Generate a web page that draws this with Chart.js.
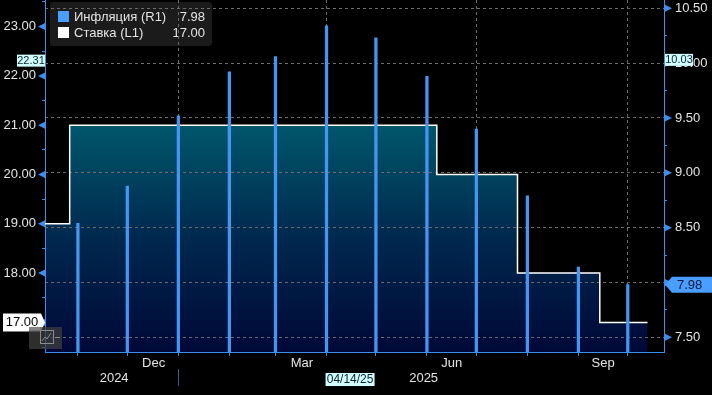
<!DOCTYPE html>
<html lang="ru">
<head>
    <meta charset="utf-8" />
    <title>Инфляция и ставка</title>
    <script src="https://cdn.jsdelivr.net/npm/chart.js@4.4.1/dist/chart.umd.min.js"></script>
    <style>
        html, body { margin: 0; padding: 0; background: #000; }
        #wrap { width: 712px; height: 395px; }
    </style>
</head>
<body>
    <div id="wrap"><canvas id="rateChart" width="712" height="395"></canvas></div>
    <script type="text/javascript">
        // inflation y/y, month-end points (right axis)
        const inflationDates = ['2024-10-31', '2024-11-30', '2024-12-31', '2025-01-31', '2025-02-28', '2025-03-31',
                                '2025-04-30', '2025-05-31', '2025-06-30', '2025-07-31', '2025-08-31', '2025-09-30'];
        const inflationValues = [8.54, 8.88, 9.52, 9.92, 10.06, 10.34, 10.23, 9.88, 9.40, 8.79, 8.14, 7.98];

        // key rate, date of each change (left axis)
        const rateDates = ['2024-10-11', '2024-10-26', '2025-06-06', '2025-07-25', '2025-09-13', '2025-10-12'];
        const rateValues = [19, 21, 20, 18, 17, 17];

        const axisStart = '2024-10-11';
        const axisEnd = '2025-10-22';
        const monthEnds = inflationDates;
        const quarterEnds = ['2024-12-31', '2025-03-31', '2025-06-30', '2025-09-30'];
        const monthLabels = ['Dec', 'Mar', 'Jun', 'Sep'];
        const monthLabelDates = ['2024-12-16', '2025-03-16', '2025-06-15', '2025-09-15'];
        const yearLabels = ['2024', '2025'];
        const yearLabelDates = ['2024-11-22', '2025-05-29'];
        const yearBreak = '2024-12-31';

        const leftTicks = [17, 18, 19, 20, 21, 22, 23];
        const rightTicks = [7.5, 8.0, 8.5, 9.0, 9.5, 10.0, 10.5];

        const crosshairDate = '04/14/25';
        const crosshairDay = '2025-04-14';
        const crosshairLeft = 22.31;
        const crosshairRight = 10.03;

        const axisBlue = '#3f8ded';
        const barBlue = '#4596f2';
        const gridGray = '#6c6c6c';
        const textColor = '#e4e4e4';
        const fontFamily = "'Liberation Sans', Arial, sans-serif";

        const DAY = 86400000;
        const day = s => Date.UTC(+s.slice(0, 4), +s.slice(5, 7) - 1, +s.slice(8, 10)) / DAY;
        const isHalf = v => Math.abs(v * 2 - Math.round(v * 2)) < 1e-9;

        // x ticks: month-end marks, quarter gridlines, month and year labels
        const xTickInfo = new Map();
        monthEnds.forEach(d => xTickInfo.set(day(d), { mark: true, grid: quarterEnds.includes(d), label: '' }));
        monthLabelDates.forEach((d, i) => xTickInfo.set(day(d), { label: monthLabels[i] }));
        yearLabelDates.forEach((d, i) => xTickInfo.set(day(d), { label: ['', yearLabels[i]] }));
        const xTickValues = [...xTickInfo.keys()].sort((a, b) => a - b);

        const leftAll = [];
        leftTicks.forEach(v => { leftAll.push(v - 0.5, v); });
        leftAll.push(23.5);
        const rightAll = [];
        rightTicks.forEach((v, i) => { rightAll.push(v); if (i < rightTicks.length - 1) rightAll.push(v + 0.25); });

        // keep the plot area flush with the canvas edges
        function fixSize(prop, size) {
            return scale => {
                scale[prop] = size;
                scale.paddingTop = 0;
                scale.paddingBottom = 0;
                scale.paddingLeft = 0;
                scale.paddingRight = 0;
            };
        }

        function fillGradient(context) {
            const chart = context.chart;
            const area = chart.chartArea;
            if (!area) return 'rgba(0,0,0,0)';
            const top = chart.scales.yL.getPixelForValue(21);
            const g = chart.ctx.createLinearGradient(0, top, 0, area.bottom);
            g.addColorStop(0, '#00566c');
            g.addColorStop(0.5, '#00284e');
            g.addColorStop(1, '#000838');
            return g;
        }

        function label(ctx, text, x, y, font, color, align) {
            ctx.font = font;
            ctx.fillStyle = color;
            ctx.textAlign = align || 'left';
            ctx.textBaseline = 'middle';
            ctx.fillText(text, x, y);
        }

        // legend box sits under the gridlines, like the original
        const legendPlugin = {
            id: 'bbgLegend',
            beforeDraw(chart) {
                const ctx = chart.ctx;
                ctx.save();
                ctx.fillStyle = '#1b1b1b';
                ctx.beginPath();
                ctx.roundRect(50, 2, 162, 44, 3);
                ctx.fill();
                ctx.fillStyle = '#4a9eff';
                ctx.fillRect(58, 11, 11, 11);
                ctx.fillStyle = '#ffffff';
                ctx.fillRect(58, 27, 11, 11);
                const f = '13px ' + fontFamily;
                label(ctx, 'Инфляция (R1)', 74, 17, f, textColor);
                label(ctx, 'Ставка (L1)', 74, 33, f, textColor);
                label(ctx, inflationValues[inflationValues.length - 1].toFixed(2), 205, 17, f, textColor, 'right');
                label(ctx, rateValues[rateValues.length - 1].toFixed(2), 205, 33, f, textColor, 'right');
                ctx.restore();
            }
        };

        const overlayPlugin = {
            id: 'bbgOverlay',
            afterDraw(chart) {
                const { ctx, chartArea, scales } = chart;
                const x = scales.x, yL = scales.yL, yR = scales.yR;
                ctx.save();

                // arrow markers on major ticks
                ctx.fillStyle = axisBlue;
                leftTicks.forEach(v => {
                    const py = yL.getPixelForValue(v);
                    ctx.beginPath();
                    ctx.moveTo(chartArea.left, py - 3.5);
                    ctx.lineTo(chartArea.left - 7, py);
                    ctx.lineTo(chartArea.left, py + 3.5);
                    ctx.fill();
                });
                rightTicks.forEach(v => {
                    const py = yR.getPixelForValue(v);
                    ctx.beginPath();
                    ctx.moveTo(chartArea.right, py - 4);
                    ctx.lineTo(chartArea.right + 8, py);
                    ctx.lineTo(chartArea.right, py + 4);
                    ctx.fill();
                });

                // year separator
                const bx = Math.round(x.getPixelForValue(day(yearBreak))) + 0.5;
                ctx.strokeStyle = '#3a5c8c';
                ctx.lineWidth = 1;
                ctx.beginPath();
                ctx.moveTo(bx, chartArea.bottom + 17);
                ctx.lineTo(bx, chartArea.bottom + 34);
                ctx.stroke();

                // last value labels
                const lastRate = rateValues[rateValues.length - 1];
                const ly = yL.getPixelForValue(lastRate);
                ctx.fillStyle = '#ffffff';
                ctx.beginPath();
                ctx.moveTo(3, ly - 9);
                ctx.lineTo(41, ly - 9);
                ctx.lineTo(chartArea.left, ly);
                ctx.lineTo(41, ly + 9);
                ctx.lineTo(3, ly + 9);
                ctx.fill();
                label(ctx, lastRate.toFixed(2), 22, ly + 0.5, '13px ' + fontFamily, '#000000', 'center');

                const lastInfl = inflationValues[inflationValues.length - 1];
                const ry = yR.getPixelForValue(lastInfl);
                ctx.fillStyle = '#4a9eff';
                ctx.beginPath();
                ctx.moveTo(chartArea.right + 1, ry);
                ctx.lineTo(672, ry - 8);
                ctx.lineTo(712, ry - 8);
                ctx.lineTo(712, ry + 8);
                ctx.lineTo(672, ry + 8);
                ctx.fill();
                label(ctx, lastInfl.toFixed(2), 677, ry + 0.5, '13px ' + fontFamily, '#07173a');

                // crosshair labels
                ctx.fillStyle = '#d2ffff';
                const cy = yL.getPixelForValue(crosshairLeft);
                ctx.fillRect(17, cy - 6, 28, 12);
                label(ctx, crosshairLeft.toFixed(2), 31, cy + 0.5, '11px ' + fontFamily, '#0a2030', 'center');
                const cr = yR.getPixelForValue(crosshairRight);
                ctx.fillStyle = '#d2ffff';
                ctx.fillRect(chartArea.right + 1, cr - 6, 28, 12);
                label(ctx, crosshairRight.toFixed(2), chartArea.right + 15, cr + 0.5, '11px ' + fontFamily, '#0a2030', 'center');
                const cx = x.getPixelForValue(day(crosshairDay));
                ctx.fillStyle = '#d2ffff';
                ctx.fillRect(cx - 24, 373, 49, 13);
                label(ctx, crosshairDate, cx + 0.5, 380, '12px ' + fontFamily, '#0a2030', 'center');

                // small chart-type button
                ctx.fillStyle = 'rgba(62,62,62,0.75)';
                ctx.fillRect(29, 327, 33, 22);
                ctx.fillStyle = 'rgba(140,140,140,0.8)';
                ctx.fillRect(29, 327, 11, 3);
                ctx.strokeStyle = '#8a8a8a';
                ctx.strokeRect(40.5, 330.5, 13, 13);
                ctx.beginPath();
                ctx.moveTo(42, 341); ctx.lineTo(45, 337); ctx.lineTo(47, 339); ctx.lineTo(51, 333);
                ctx.moveTo(55, 337.5); ctx.lineTo(60, 337.5);
                ctx.stroke();

                ctx.restore();
            }
        };

        const chartContext = document.getElementById('rateChart').getContext('2d');
        const rateChart = new Chart(chartContext, {
            data: {
                datasets: [
                    {
                        type: 'bar',
                        label: 'Инфляция (R1)',
                        data: inflationDates.map((d, i) => ({ x: day(d), y: inflationValues[i] })),
                        yAxisID: 'yR',
                        backgroundColor: barBlue,
                        borderWidth: 0,
                        barThickness: 2.6,
                        order: 0
                    },
                    {
                        type: 'line',
                        label: 'Ставка (L1)',
                        data: rateDates.map((d, i) => ({ x: day(d), y: rateValues[i] })),
                        yAxisID: 'yL',
                        stepped: true,
                        borderColor: '#ffffff',
                        borderWidth: 1.5,
                        pointRadius: 0,
                        fill: 'start',
                        backgroundColor: fillGradient,
                        order: 1
                    }
                ]
            },
            options: {
                responsive: false,
                animation: false,
                devicePixelRatio: 1,
                layout: { padding: 0, autoPadding: false },
                plugins: {
                    legend: { display: false },
                    tooltip: { enabled: false },
                    // fill first, then gridlines, then bars and the rate line on top
                    filler: { drawTime: 'beforeDraw' }
                },
                scales: {
                    x: {
                        type: 'linear',
                        position: 'bottom',
                        offset: false,
                        min: day(axisStart),
                        max: day(axisEnd),
                        afterBuildTicks: scale => { scale.ticks = xTickValues.map(v => ({ value: v })); },
                        afterFit: fixSize('height', 43),
                        border: { color: axisBlue, width: 1, dash: [3, 3] },
                        grid: {
                            offset: false,
                            tickLength: 4,
                            color: c => {
                                const t = c.tick && xTickInfo.get(c.tick.value);
                                return t && t.grid ? gridGray : 'rgba(0,0,0,0)';
                            },
                            tickColor: c => {
                                const t = c.tick && xTickInfo.get(c.tick.value);
                                return t && t.mark ? axisBlue : 'rgba(0,0,0,0)';
                            }
                        },
                        ticks: {
                            autoSkip: false,
                            maxRotation: 0,
                            padding: 0,
                            color: textColor,
                            font: { family: fontFamily, size: 13, lineHeight: '15px' },
                            callback: v => (xTickInfo.get(v) || {}).label || ''
                        }
                    },
                    yL: {
                        type: 'linear',
                        position: 'left',
                        min: 16.4,
                        max: 23.54,
                        afterBuildTicks: scale => { scale.ticks = leftAll.map(v => ({ value: v })); },
                        afterFit: fixSize('width', 45),
                        border: { color: axisBlue, width: 1 },
                        grid: { drawOnChartArea: false, tickLength: 3, tickColor: axisBlue },
                        ticks: {
                            padding: 6,
                            color: textColor,
                            font: { family: fontFamily, size: 13 },
                            callback: v => Number.isInteger(v) ? v.toFixed(2) : ''
                        }
                    },
                    yR: {
                        type: 'linear',
                        position: 'right',
                        min: 7.366,
                        max: 10.576,
                        afterBuildTicks: scale => { scale.ticks = rightAll.map(v => ({ value: v })); },
                        afterFit: fixSize('width', 48),
                        border: { color: axisBlue, width: 1, dash: [3, 3] },
                        grid: {
                            tickLength: 3,
                            tickColor: axisBlue,
                            color: c => (c.tick && isHalf(c.tick.value)) ? gridGray : 'rgba(0,0,0,0)'
                        },
                        ticks: {
                            padding: 8,
                            color: textColor,
                            font: { family: fontFamily, size: 13 },
                            callback: v => isHalf(v) ? v.toFixed(2) : ''
                        }
                    }
                }
            },
            plugins: [legendPlugin, overlayPlugin]
        });
    </script>
</body>
</html>
